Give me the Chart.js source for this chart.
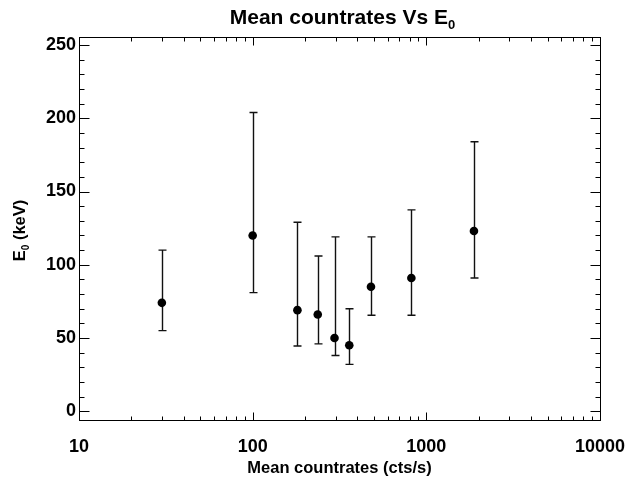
<!DOCTYPE html>
<html>
<head>
  <title>Mean countrates Vs E0</title>
  <script src="https://cdn.jsdelivr.net/npm/chart.js@4.4.0/dist/chart.umd.min.js"></script>
  <style>
    body{margin:0;background:#fff;}
    #wrap{width:625px;height:484px;}
  </style>
</head>
<body>
<div id="wrap"><canvas id="myCanvas" width="625" height="484"></canvas></div>
<script>
// ---------------- data ----------------
var countrates = [30, 100, 181, 237, 296, 360, 480, 820, 1880];
var e0         = [74, 120, 69, 66, 50, 45, 85, 91, 123];
var e0Low      = [55, 81, 44.5, 46, 38, 32, 65.5, 65.5, 91];
var e0High     = [110, 204, 129, 106, 119, 70, 119, 137.5, 184];

var xTicks = [10, 100, 1000, 10000];
var yTicks = [0, 50, 100, 150, 200, 250];
var xRange = [10, 10000];
var yRange = [-6, 255.5];

var FONT = '"Liberation Sans", Arial, Helvetica, sans-serif';
var INK = '#000';

// draw text with a subscript part, centred on cx, baseline at by
function drawSub(ctx, main, sub, tail, cx, by, size) {
  ctx.font = 'bold ' + size + 'px ' + FONT;
  var w1 = ctx.measureText(main).width;
  var w3 = ctx.measureText(tail).width;
  ctx.font = 'bold ' + Math.round(size * 0.62) + 'px ' + FONT;
  var w2 = ctx.measureText(sub).width;
  var x0 = cx - (w1 + w2 + w3) / 2;
  ctx.textAlign = 'left';
  ctx.textBaseline = 'alphabetic';
  ctx.font = 'bold ' + size + 'px ' + FONT;
  ctx.fillText(main, x0, by);
  ctx.font = 'bold ' + Math.round(size * 0.62) + 'px ' + FONT;
  ctx.fillText(sub, x0 + w1, by + size * 0.22);
  ctx.font = 'bold ' + size + 'px ' + FONT;
  ctx.fillText(tail, x0 + w1 + w2, by);
}

// IDL-like frame: inward ticks on all sides, error bars, titles
var idlFrame = {
  id: 'idlFrame',
  beforeDatasetsDraw: function(chart) {
    var ctx = chart.ctx, xs = chart.scales.x, ys = chart.scales.y;
    ctx.save();
    ctx.strokeStyle = '#111';
    ctx.lineWidth = 1.4;
    for (var i = 0; i < countrates.length; i++) {
      var px = Math.round(xs.getPixelForValue(countrates[i])) + 0.5;
      var top = ys.getPixelForValue(e0High[i]);
      var bot = ys.getPixelForValue(e0Low[i]);
      ctx.beginPath();
      ctx.moveTo(px, top); ctx.lineTo(px, bot);
      ctx.moveTo(px - 4, top); ctx.lineTo(px + 4, top);
      ctx.moveTo(px - 4, bot); ctx.lineTo(px + 4, bot);
      ctx.stroke();
    }
    ctx.restore();
  },
  afterDraw: function(chart) {
    var ctx = chart.ctx, a = chart.chartArea;
    var xs = chart.scales.x, ys = chart.scales.y;
    var L = Math.round(a.left) + 0.5, R = Math.round(a.right) + 0.5;
    var T = Math.round(a.top) + 0.5, B = Math.round(a.bottom) + 0.5;
    ctx.save();
    ctx.strokeStyle = INK;
    ctx.lineWidth = 1;
    ctx.strokeRect(L, T, R - L, B - T);
    ctx.beginPath();
    // y ticks every 10, major every 50
    for (var v = 0; v <= 250; v += 10) {
      var py = Math.round(ys.getPixelForValue(v)) + 0.5;
      var len = (v % 50 === 0) ? 10 : 5;
      ctx.moveTo(L, py); ctx.lineTo(L + len, py);
      ctx.moveTo(R, py); ctx.lineTo(R - len, py);
    }
    // x ticks, log decades
    for (var d = 10; d <= 10000; d *= 10) {
      for (var k = 1; k <= 9; k++) {
        var val = k * d;
        if (val > xRange[1]) break;
        var px = Math.round(xs.getPixelForValue(val)) + 0.5;
        var ln = (k === 1) ? 8 : 4;
        ctx.moveTo(px, B); ctx.lineTo(px, B - ln);
        ctx.moveTo(px, T); ctx.lineTo(px, T + ln);
      }
    }
    ctx.stroke();

    ctx.fillStyle = INK;
    var cx = (a.left + a.right) / 2;
    drawSub(ctx, 'Mean countrates Vs E', '0', '', cx + 3, 24, 21);
    ctx.font = 'bold 16.5px ' + FONT;
    ctx.textAlign = 'center';
    ctx.textBaseline = 'alphabetic';
    ctx.fillText('Mean countrates (cts/s)', cx, 473);
    ctx.translate(25, (a.top + a.bottom) / 2 + 2);
    ctx.rotate(-Math.PI / 2);
    drawSub(ctx, 'E', '0', ' (keV)', 0, 0, 16.5);
    ctx.restore();
  }
};

var canv = document.getElementById('myCanvas');
var chart = new Chart(canv, {
  type: 'scatter',
  data: {
    datasets: [{
      label: 'E0',
      data: countrates.map(function(c, i) { return {x: c, y: e0[i]}; }),
      backgroundColor: INK,
      borderColor: INK,
      pointRadius: 4.3,
      pointHoverRadius: 4.3,
      borderWidth: 0
    }]
  },
  options: {
    responsive: false,
    animation: false,
    events: [],
    layout: { padding: { top: 37, right: 25, left: 0, bottom: 0 } },
    plugins: { legend: { display: false }, tooltip: { enabled: false }, title: { display: false } },
    scales: {
      x: {
        type: 'logarithmic',
        min: xRange[0], max: xRange[1],
        grid: { display: false, drawTicks: false },
        border: { display: false },
        afterBuildTicks: function(s) { s.ticks = xTicks.map(function(v) { return {value: v}; }); },
        afterFit: function(s) { s.height = 64; s.paddingLeft = 0; s.paddingRight = 0; },
        ticks: {
          color: INK, padding: 16, maxRotation: 0, autoSkip: false,
          font: { family: FONT, size: 18, weight: 'bold' },
          callback: function(v) { return String(v); }
        }
      },
      y: {
        min: yRange[0], max: yRange[1],
        grid: { display: false, drawTicks: false },
        border: { display: false },
        afterBuildTicks: function(s) { s.ticks = yTicks.map(function(v) { return {value: v}; }); },
        afterFit: function(s) { s.width = 79; s.paddingTop = 0; s.paddingBottom = 0; },
        ticks: {
          color: INK, padding: 3,
          font: { family: FONT, size: 18, weight: 'bold' },
          callback: function(v) { return String(v); }
        }
      }
    }
  },
  plugins: [idlFrame]
});
</script>
</body>
</html>
